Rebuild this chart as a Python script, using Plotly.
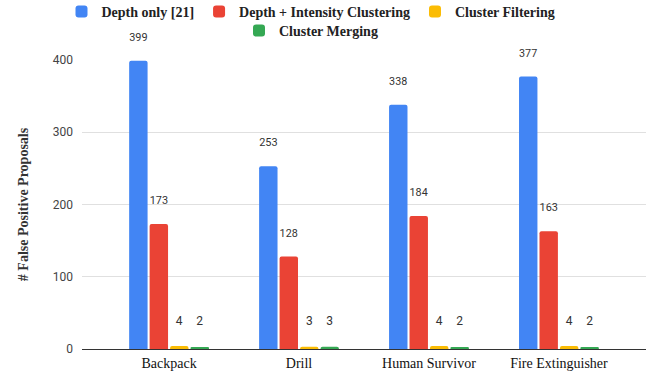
import plotly.graph_objects as go

categories = ["Backpack", "Drill", "Human Survivor", "Fire Extinguisher"]
series_names = ["Depth only [21]", "Depth + Intensity Clustering", "Cluster Filtering", "Cluster Merging"]
depth_only = [399, 253, 338, 377]
depth_intensity = [173, 128, 184, 163]
cluster_filtering = [4, 3, 4, 4]
cluster_merging = [2, 3, 2, 2]
y_ticks = [0, 100, 200, 300, 400]

colors = ["#4285F4", "#EA4335", "#FBBC04", "#34A853"]
all_values = [depth_only, depth_intensity, cluster_filtering, cluster_merging]
legend_ids = ["legend", "legend", "legend", "legend2"]

fig = go.Figure()
for name, vals, col, lg in zip(series_names, all_values, colors, legend_ids):
    fig.add_trace(go.Bar(
        x=categories, y=vals, name=name, legend=lg,
        marker=dict(color=col, line=dict(width=0), cornerradius=2),
        text=[f"{v}<br> " for v in vals],
        textposition="outside",
        textfont=dict(family="Roboto, Arial, sans-serif", size=12, color="#333333"),
        cliponaxis=False,
    ))

legend_font = dict(family="Liberation Serif, Times New Roman, serif", size=14,
                   color="#222222", weight="bold")
fig.update_layout(
    width=656, height=372,
    margin=dict(l=82, r=10, t=60, b=23, autoexpand=False),
    paper_bgcolor="white", plot_bgcolor="white",
    barmode="group", bargap=0.37, bargroupgap=0.1,
    legend=dict(orientation="h", xref="container", yref="container",
                x=311 / 656, xanchor="center", y=1 - 12 / 372, yanchor="middle",
                bgcolor="rgba(0,0,0,0)",
                font=legend_font, itemwidth=30, tracegroupgap=0),
    legend2=dict(orientation="h", xref="container", yref="container",
                 x=311 / 656, xanchor="center", y=1 - 31 / 372, yanchor="middle",
                 bgcolor="rgba(0,0,0,0)",
                 font=legend_font, itemwidth=30, tracegroupgap=0),
    xaxis=dict(range=[-0.67, 3.67], showgrid=False, ticks="", showline=False, automargin=False,
               ticklabelstandoff=4,
               tickfont=dict(family="Liberation Serif, Times New Roman, serif", size=14, color="#111111")),
    yaxis=dict(range=[0, 400], tickvals=y_ticks, showgrid=True, gridcolor="#e0e0e0",
               zeroline=True, zerolinecolor="#333333", zerolinewidth=1, automargin=False,
               tickfont=dict(family="Roboto, Arial, sans-serif", size=12, color="#444444"),
               ticks="", ticklabelstandoff=8,
               title=dict(text="# False Positive Proposals", standoff=20,
                          font=dict(family="Liberation Serif, Times New Roman, serif", size=14,
                                    color="#333333", weight="bold"))),
)
fig.write_html("out.html", config={"displayModeBar": False},
               post_script="document.body.style.margin='0';")
